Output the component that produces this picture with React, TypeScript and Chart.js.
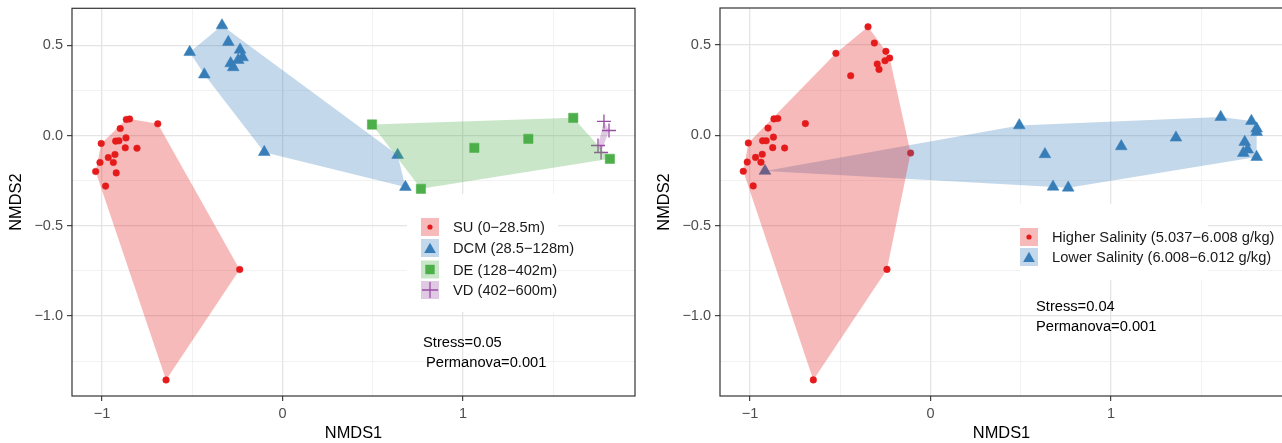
import React, { useEffect, useRef } from "react";
import { Chart, registerables } from "chart.js";

Chart.register(...registerables);

// ---------- axis ranges & ticks ----------
const X_RANGE = [-1.166, 1.953];
const Y_RANGE = [-1.443, 0.705];
const X_MAJOR = [-1, 0, 1];
const X_MAJOR_LABELS = ["\u22121", "0", "1"];
const X_MINOR = [-0.5, 0.5, 1.5];
const Y_MAJOR = [-1, -0.5, 0, 0.5];
const Y_MAJOR_LABELS = ["\u22121.0", "\u22120.5", "0.0", "0.5"];
const Y_MINOR = [-1.25, -0.75, -0.25, 0.25];
const X_TITLE = "NMDS1";
const Y_TITLE = "NMDS2";

// ---------- left panel data (depth layers) ----------
const SU_X = [-1.035, -1.011, -1.004, -0.98, -0.965, -0.937, -0.928, -0.921, -0.924, -0.906, -0.899, -0.871, -0.867, -0.865, -0.847, -0.806, -0.691, -0.237, -0.645];
const SU_Y = [-0.199, -0.149, -0.044, -0.28, -0.122, -0.149, -0.105, -0.207, -0.031, -0.029, 0.039, -0.068, -0.013, 0.089, 0.092, -0.07, 0.065, -0.742, -1.354];
const DCM_X = [-0.335, -0.514, -0.3, -0.235, -0.245, -0.221, -0.287, -0.273, -0.433, -0.101, 0.638, 0.681];
const DCM_Y = [0.61, 0.462, 0.518, 0.475, 0.418, 0.433, 0.4, 0.378, 0.338, -0.092, -0.108, -0.285];
const DE_X = [0.496, 0.767, 1.063, 1.362, 1.611, 1.814];
const DE_Y = [0.061, -0.295, -0.068, -0.018, 0.098, -0.129];
const VD_X = [1.781, 1.809, 1.748, 1.765];
const VD_Y = [0.078, 0.028, -0.055, -0.094];
const LEFT_LABELS = ["SU (0\u221228.5m)", "DCM (28.5\u2212128m)", "DE (128\u2212402m)", "VD (402\u2212600m)"];
const LEFT_STATS = ["Stress=0.05", "Permanova=0.001"];

// ---------- right panel data (salinity) ----------
const HIGH_X = [-1.037, -1.015, -1.009, -0.982, -0.969, -0.939, -0.932, -0.93, -0.91, -0.9, -0.874, -0.87, -0.867, -0.846, -0.808, -0.693, -0.524, -0.442, -0.346, -0.311, -0.295, -0.285, -0.247, -0.252, -0.226, -0.11, -0.241, -0.649];
const HIGH_Y = [-0.199, -0.148, -0.042, -0.28, -0.122, -0.149, -0.105, -0.03, -0.03, 0.04, -0.068, -0.01, 0.091, 0.093, -0.07, 0.065, 0.454, 0.33, 0.601, 0.511, 0.395, 0.365, 0.465, 0.413, 0.428, -0.098, -0.742, -1.354];
const LOW_X = [-0.917, 0.492, 0.634, 0.679, 0.763, 1.057, 1.36, 1.608, 1.778, 1.807, 1.807, 1.741, 1.757, 1.733, 1.807];
const LOW_Y = [-0.197, 0.055, -0.105, -0.285, -0.29, -0.061, -0.013, 0.101, 0.079, 0.037, 0.018, -0.037, -0.079, -0.098, -0.12];
const RIGHT_LABELS = ["Higher Salinity (5.037\u22126.008 g/kg)", "Lower Salinity (6.008\u22126.012 g/kg)"];
const RIGHT_STATS = ["Stress=0.04", "Permanova=0.001"];

// ---------- styling ----------
const FONT = "'Liberation Sans', Arial, Helvetica, sans-serif";
const RED = "#E41A1C";
const BLUE = "#377EB8";
const GREEN = "#4DAF4A";
const PURPLE = "#984EA3";
const fillOf = (hex: string, a: number) => {
  const r = parseInt(hex.slice(1, 3), 16);
  const g = parseInt(hex.slice(3, 5), 16);
  const b = parseInt(hex.slice(5, 7), 16);
  return `rgba(${r},${g},${b},${a})`;
};

type P = { x: number; y: number };
const toPts = (xs: number[], ys: number[]): P[] => xs.map((x, i) => ({ x, y: ys[i] }));

function convexHull(xs: number[], ys: number[]): P[] {
  const pts = toPts(xs, ys).sort((a, b) => a.x - b.x || a.y - b.y);
  const cross = (o: P, a: P, b: P) => (a.x - o.x) * (b.y - o.y) - (a.y - o.y) * (b.x - o.x);
  const lower: P[] = [];
  for (const p of pts) {
    while (lower.length >= 2 && cross(lower[lower.length - 2], lower[lower.length - 1], p) <= 0) lower.pop();
    lower.push(p);
  }
  const upper: P[] = [];
  for (let i = pts.length - 1; i >= 0; i--) {
    const p = pts[i];
    while (upper.length >= 2 && cross(upper[upper.length - 2], upper[upper.length - 1], p) <= 0) upper.pop();
    upper.push(p);
  }
  upper.pop();
  lower.pop();
  const h = lower.concat(upper);
  h.push({ ...h[0] });
  return h;
}

type Group = { xs: number[]; ys: number[]; color: string; shape: string; radius: number; label: string };

function hullDataset(g: Group) {
  return {
    type: "line" as const,
    data: convexHull(g.xs, g.ys),
    fill: "shape",
    backgroundColor: fillOf(g.color, 0.3),
    borderWidth: 0,
    borderColor: "rgba(0,0,0,0)",
    pointRadius: 0,
    tension: 0,
    order: 1,
  };
}

function pointDataset(g: Group) {
  const isCross = g.shape === "cross";
  return {
    type: "scatter" as const,
    data: toPts(g.xs, g.ys),
    pointStyle: g.shape,
    pointRadius: g.radius,
    backgroundColor: g.color,
    borderColor: g.color,
    borderWidth: isCross ? 1.3 : 0.5,
    order: 2,
  };
}

function axis(kind: "x" | "y", major: number[], labels: string[], minor: number[], range: number[], title: string) {
  const all = [...major, ...minor].sort((a, b) => a - b);
  const isMajor = (c: any) => c && c.tick && major.includes(c.tick.value);
  return {
    type: "linear" as const,
    min: range[0],
    max: range[1],
    afterBuildTicks: (s: any) => {
      s.ticks = all.map((v) => ({ value: v }));
    },
    afterFit: (s: any) => {
      if (kind === "x") s.height = 47;
      else s.width = 72;
      s.paddingTop = 0;
      s.paddingBottom = 0;
      s.paddingLeft = 0;
      s.paddingRight = 0;
    },
    border: { display: false },
    grid: {
      color: (c: any) => (isMajor(c) ? "#e4e4e4" : "#ececec"),
      lineWidth: (c: any) => (isMajor(c) ? 1.3 : 0.7),
      drawTicks: true,
      tickLength: 5,
      tickWidth: 1.1,
      tickColor: (c: any) => (isMajor(c) ? "#333333" : "rgba(0,0,0,0)"),
    },
    ticks: {
      autoSkip: false,
      maxRotation: 0,
      minRotation: 0,
      padding: 4,
      color: "#4d4d4d",
      font: { family: FONT, size: 14.5 },
      callback: (v: any) => {
        const i = major.indexOf(Number(v));
        return i >= 0 ? labels[i] : "";
      },
    },
    title: {
      display: true,
      text: title,
      color: "#000000",
      font: { family: FONT, size: 16.4 },
      padding: kind === "x" ? { top: 0, bottom: 0 } : { top: 7, bottom: 0 },
    },
  };
}

type Decor = {
  bg: { x: number; y: number; w: number; h: number };
  keyX: number;
  rows: number[];
  textX: number;
  stats: { x: number; y: number }[];
  groups: Group[];
  statTexts: string[];
};

function drawGlyph(ctx: CanvasRenderingContext2D, shape: string, cx: number, cy: number, color: string) {
  ctx.save();
  ctx.fillStyle = color;
  ctx.strokeStyle = color;
  ctx.beginPath();
  if (shape === "circle") {
    ctx.arc(cx, cy, 2.6, 0, Math.PI * 2);
    ctx.fill();
  } else if (shape === "triangle") {
    const r = 6.8;
    for (let k = 0; k < 3; k++) {
      const a = (k * 2 * Math.PI) / 3;
      const px = cx + Math.sin(a) * r;
      const py = cy + 1.5 - Math.cos(a) * r;
      if (k === 0) ctx.moveTo(px, py);
      else ctx.lineTo(px, py);
    }
    ctx.closePath();
    ctx.fill();
  } else if (shape === "rect") {
    ctx.fillRect(cx - 4.7, cy - 4.7, 9.4, 9.4);
  } else if (shape === "cross") {
    ctx.lineWidth = 1.3;
    ctx.moveTo(cx - 8, cy);
    ctx.lineTo(cx + 8, cy);
    ctx.moveTo(cx, cy - 8);
    ctx.lineTo(cx, cy + 8);
    ctx.stroke();
  }
  ctx.restore();
}

function makeDecor(d: Decor) {
  return {
    id: "decor",
    beforeDatasetsDraw(chart: any) {
      const ctx = chart.ctx as CanvasRenderingContext2D;
      ctx.save();
      ctx.fillStyle = "#ffffff";
      ctx.fillRect(d.bg.x, d.bg.y, d.bg.w, d.bg.h);
      ctx.restore();
    },
    afterDatasetsDraw(chart: any) {
      const ctx = chart.ctx as CanvasRenderingContext2D;
      ctx.save();
      ctx.font = `14.7px ${FONT}`;
      ctx.textBaseline = "middle";
      ctx.textAlign = "left";
      d.groups.forEach((g, i) => {
        const cy = d.rows[i];
        ctx.fillStyle = fillOf(g.color, 0.3);
        ctx.fillRect(d.keyX, cy - 9, 18, 18);
        drawGlyph(ctx, g.shape, d.keyX + 9, cy, g.color);
        ctx.fillStyle = "#1a1a1a";
        ctx.fillText(g.label, d.textX, cy + 1);
      });
      d.statTexts.forEach((t, i) => {
        ctx.fillStyle = "#000000";
        ctx.fillText(t, d.stats[i].x, d.stats[i].y);
      });
      ctx.restore();
    },
    afterDraw(chart: any) {
      const ctx = chart.ctx as CanvasRenderingContext2D;
      const { left, top, right, bottom } = chart.chartArea;
      ctx.save();
      ctx.strokeStyle = "#333333";
      ctx.lineWidth = 1.2;
      ctx.strokeRect(left, top, right - left, bottom - top);
      ctx.restore();
    },
  };
}

function buildConfig(groups: Group[], decor: Decor) {
  return {
    type: "scatter" as const,
    data: {
      datasets: [...groups.map(pointDataset), ...groups.map(hullDataset)] as any[],
    },
    options: {
      responsive: false,
      animation: false as const,
      events: [] as any[],
      layout: { padding: { top: 8, right: 10, left: 0, bottom: 0 } },
      plugins: {
        legend: { display: false },
        tooltip: { enabled: false },
      },
      scales: {
        x: axis("x", X_MAJOR, X_MAJOR_LABELS, X_MINOR, X_RANGE, X_TITLE),
        y: axis("y", Y_MAJOR, Y_MAJOR_LABELS, Y_MINOR, Y_RANGE, Y_TITLE),
      },
    },
    plugins: [makeDecor(decor)],
  };
}

export default function App() {
  const leftRef = useRef<HTMLCanvasElement>(null);
  const rightRef = useRef<HTMLCanvasElement>(null);

  useEffect(() => {
    const leftGroups: Group[] = [
      { xs: SU_X, ys: SU_Y, color: RED, shape: "circle", radius: 3.3, label: LEFT_LABELS[0] },
      { xs: DCM_X, ys: DCM_Y, color: BLUE, shape: "triangle", radius: 6.8, label: LEFT_LABELS[1] },
      { xs: DE_X, ys: DE_Y, color: GREEN, shape: "rect", radius: 6.6, label: LEFT_LABELS[2] },
      { xs: VD_X, ys: VD_Y, color: PURPLE, shape: "cross", radius: 7, label: LEFT_LABELS[3] },
    ];
    const rightGroups: Group[] = [
      { xs: HIGH_X, ys: HIGH_Y, color: RED, shape: "circle", radius: 3.3, label: RIGHT_LABELS[0] },
      { xs: LOW_X, ys: LOW_Y, color: BLUE, shape: "triangle", radius: 6.8, label: RIGHT_LABELS[1] },
    ];
    const c1 = new Chart(
      leftRef.current as HTMLCanvasElement,
      buildConfig(leftGroups, {
        bg: { x: 407, y: 194, w: 151, h: 118 },
        keyX: 421,
        rows: [227, 248, 269.5, 290],
        textX: 453,
        stats: [
          { x: 423, y: 343 },
          { x: 426, y: 363 },
        ],
        groups: leftGroups,
        statTexts: LEFT_STATS,
      }) as any
    );
    const c2 = new Chart(
      rightRef.current as HTMLCanvasElement,
      buildConfig(rightGroups, {
        bg: { x: 372, y: 204, w: 188, h: 76 },
        keyX: 372,
        rows: [237, 257],
        textX: 404,
        stats: [
          { x: 388, y: 307 },
          { x: 388, y: 327 },
        ],
        groups: rightGroups,
        statTexts: RIGHT_STATS,
      }) as any
    );
    return () => {
      c1.destroy();
      c2.destroy();
    };
  }, []);

  return (
    <div
      style={{
        position: "absolute",
        left: 0,
        top: 0,
        width: 1282,
        height: 443,
        overflow: "hidden",
        background: "#ffffff",
      }}
    >
      <canvas ref={leftRef} width={645} height={443} style={{ position: "absolute", left: 0, top: 0 }} />
      <canvas ref={rightRef} width={645} height={443} style={{ position: "absolute", left: 648, top: 0 }} />
    </div>
  );
}
